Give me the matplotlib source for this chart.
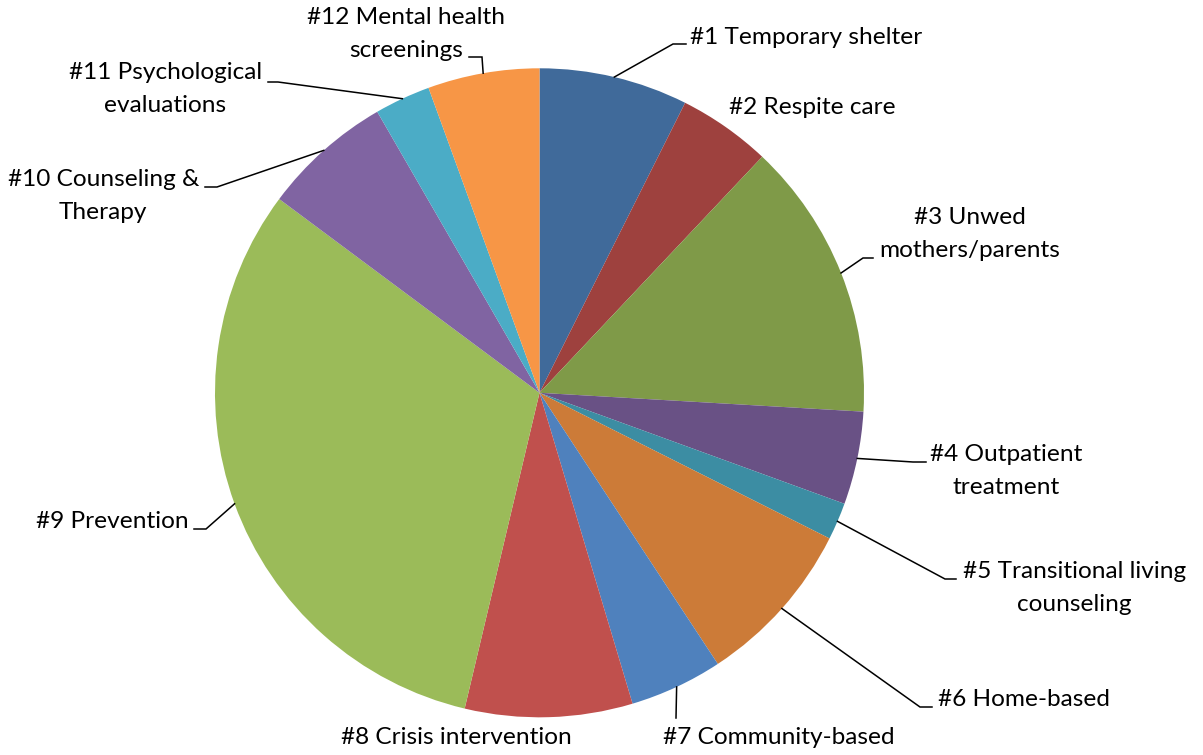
import numpy as np
import matplotlib
matplotlib.use('Agg')
import matplotlib.pyplot as plt

# DATA
labels = ['#1 Temporary shelter', '#2 Respite care', '#3 Unwed\nmothers/parents',
          '#4 Outpatient\ntreatment', '#5 Transitional living\ncounseling', '#6 Home-based',
          '#7 Community-based', '#8 Crisis intervention', '#9 Prevention',
          '#10 Counseling &\nTherapy', '#11 Psychological\nevaluations',
          '#12 Mental health\nscreenings']
values = [16, 10, 30, 10, 4, 18, 10, 18, 68, 14, 6, 12]
colors = ['#406A9A', '#9E413E', '#7F9A48', '#695185', '#3C8DA3', '#CC7B38',
          '#4F81BD', '#C0504D', '#9BBB59', '#8064A2', '#4BACC6', '#F79646']

# label layout in pixels: text anchor (x, y, ha), leader bend point, leader end x
label_pos = [
    (690, 37, 'left', (673, 44), 686),
    (729, 108, 'left', None, None),
    (879, 234, 'left', (863, 258), 873),
    (930, 471, 'left', (913, 462), 926),
    (963, 588, 'left', (945, 579), 956),
    (938, 700, 'left', (920, 707), 932),
    (663, 737, 'left', (676, 718), 676),
    (456, 737, 'center', None, None),
    (189, 522, 'right', (206, 529), 194),
    (199, 196, 'right', (217, 187), 205),
    (262, 89, 'right', (278, 82), 268),
    (505, 34, 'right', (482, 57), 469),
]

CENTER = (539.5, 392.8)
RADIUS = 324.5

plt.rcParams['font.family'] = ['Lato', 'DejaVu Sans']

fig = plt.figure(figsize=(12.03, 7.55), dpi=100)
ax = fig.add_axes([0, 0, 1, 1])

# y axis points down (pixel space), so counterclock in data = clockwise on screen
wedges, _ = ax.pie(values, colors=colors, startangle=270, counterclock=True,
                   center=CENTER, radius=RADIUS, frame=True,
                   wedgeprops=dict(linewidth=0))
ax.set_xlim(0, 1203)
ax.set_ylim(755, 0)
ax.set_aspect('equal')
ax.axis('off')

for w, lab, (tx, ty, ha, bend, hx) in zip(wedges, labels, label_pos):
    mid = np.deg2rad((w.theta1 + w.theta2) / 2)
    px = w.center[0] + w.r * np.cos(mid)
    py = w.center[1] + w.r * np.sin(mid)
    if bend is not None:
        ax.plot([px, bend[0], hx], [py, bend[1], bend[1]], color='black', lw=1.1,
                solid_joinstyle='miter')
    ax.text(tx, ty, lab, ha=ha, va='center', multialignment='center',
            fontsize=17.6, color='black', linespacing=1.65)

fig.savefig('out.png', dpi=100)
